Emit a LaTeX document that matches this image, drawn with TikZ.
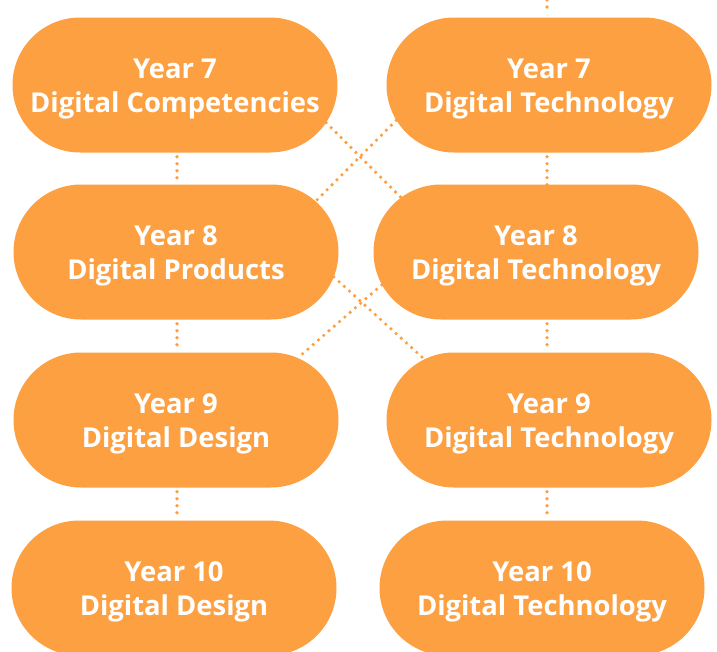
\documentclass[tikz,border=0pt]{standalone}
\usepackage{fontspec}
\setmainfont{Open Sans}
\usetikzlibrary{shapes.misc}
\definecolor{boxorange}{HTML}{FDA042}
\newcommand{\topstrut}{\rule{0pt}{27pt}}
\tikzset{
  yearbox/.style={rounded rectangle, fill=boxorange, draw=none, minimum width=325pt, minimum height=135pt, inner sep=0pt, text=white, align=center, font=\fontsize{27.4}{34}\selectfont\bfseries},
  dotline/.style={draw=boxorange, line width=3.6pt, line cap=round, dash pattern=on 0pt off 7pt}
}
\begin{document}
\begin{tikzpicture}[x=1pt,y=-1pt]
\useasboundingbox (0,0) rectangle (717,651);
\clip (0,0) rectangle (717,651);
% nodes
\node[yearbox] (L1) at (175,85) {\topstrut Year 7\\Digital Competencies};
\node[yearbox] (L2) at (176,252) {\topstrut Year 8\\Digital Products};
\node[yearbox] (L3) at (176,420) {\topstrut Year 9\\Digital Design};
\node[yearbox] (L4) at (174,588) {\topstrut Year 10\\Digital Design};
\node[yearbox] (R1) at (549,85) {\topstrut Year 7\\Digital Technology};
\node[yearbox] (R2) at (536,252) {\topstrut Year 8\\Digital Technology};
\node[yearbox] (R3) at (549,420) {\topstrut Year 9\\Digital Technology};
\node[yearbox] (R4) at (542,588) {\topstrut Year 10\\Digital Technology};
\coordinate (top) at (547,0);
% connectors
\draw[dotline] ([xshift=2pt,yshift=-4pt]L1.south) -- ([xshift=2pt,yshift=4pt]L1.south |- L2.north);
\draw[dotline] ([xshift=1pt,yshift=-4pt]L2.south) -- ([xshift=1pt,yshift=4pt]L3.north);
\draw[dotline] ([xshift=1pt,yshift=-4pt]L3.south) -- ([xshift=3pt,yshift=4pt]L4.north);
\draw[dotline] (top) -- ([xshift=-2pt,yshift=4pt]R1.north);
\draw[dotline] ([xshift=-2pt,yshift=-4pt]R1.south) -- ([xshift=-2pt,yshift=-4pt]R1.south |- R2.north);
\draw[dotline] ([xshift=-2pt,yshift=-4pt]R2.south -| R1.south) -- ([xshift=-2pt,yshift=4pt]R3.north);
\draw[dotline] ([xshift=-2pt,yshift=-4pt]R3.south) -- ([xshift=-2pt,yshift=4pt]R3.south |- R4.north);
\draw[dotline] (L1.-14) -- (R2.158);
\draw[dotline] (R1.-167) -- (L2.20);
\draw[dotline] (L2.-9) -- (R3.154);
\draw[dotline] (R2.-168) -- (L3.27);
\end{tikzpicture}
\end{document}
